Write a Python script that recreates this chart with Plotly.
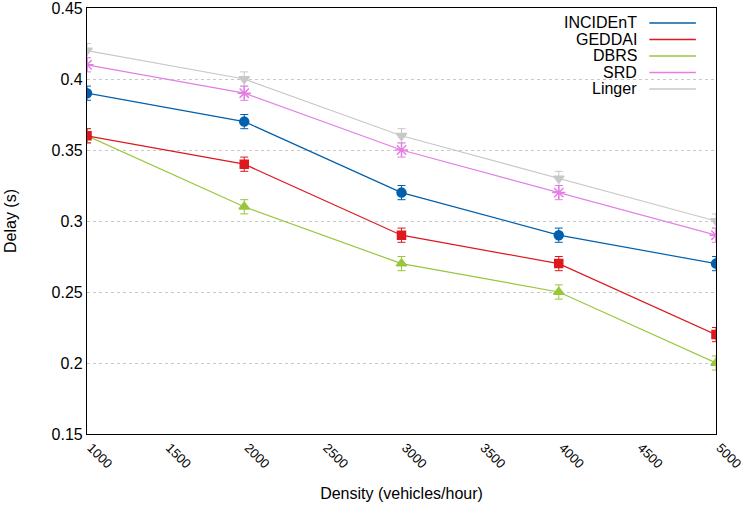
import plotly.graph_objects as go

# --- Data ---
density = [1000, 2000, 3000, 4000, 5000]

incident = [0.39, 0.37, 0.32, 0.29, 0.27]
geddai = [0.36, 0.34, 0.29, 0.27, 0.22]
dbrs = [0.36, 0.31, 0.27, 0.25, 0.20]
srd = [0.41, 0.39, 0.35, 0.32, 0.29]
linger = [0.42, 0.40, 0.36, 0.33, 0.30]

incident_err = [0.005, 0.005, 0.005, 0.005, 0.005]
geddai_err = [0.005, 0.005, 0.005, 0.005, 0.005]
dbrs_err = [0.005, 0.005, 0.005, 0.005, 0.005]
srd_err = [0.005, 0.005, 0.005, 0.005, 0.005]
linger_err = [0.005, 0.005, 0.005, 0.005, 0.005]

x_ticks = [1000, 1500, 2000, 2500, 3000, 3500, 4000, 4500, 5000]
y_ticks = [0.15, 0.2, 0.25, 0.3, 0.35, 0.4, 0.45]
y_labels = ["0.15", "0.2", "0.25", "0.3", "0.35", "0.4", "0.45"]

# name, values, errors, colour, marker symbol, marker size
series = [
    ("Linger", linger, linger_err, "#c8c8c8", "triangle-down", 9),
    ("SRD", srd, srd_err, "#e47ee4", "asterisk-open", 11),
    ("DBRS", dbrs, dbrs_err, "#99c63c", "triangle-up", 9),
    ("GEDDAI", geddai, geddai_err, "#dd181f", "square", 8),
    ("INCIDEnT", incident, incident_err, "#0060ad", "circle", 9),
]
legend_order = ["INCIDEnT", "GEDDAI", "DBRS", "SRD", "Linger"]

fig = go.Figure()

for name, vals, errs, color, symbol, size in series:
    fig.add_trace(go.Scatter(
        x=density, y=vals, mode="lines+markers", name=name,
        line=dict(color=color, width=1.2),
        marker=dict(symbol=symbol, size=size, color=color,
                    line=dict(color=color, width=1.5)),
        error_y=dict(type="data", array=errs, visible=True,
                     color=color, thickness=1, width=4),
        showlegend=False,
    ))

# --- Hand-made legend (text first, sample line after it) ---
colors = {s[0]: s[3] for s in series}
shapes = [dict(type="rect", xref="paper", yref="paper",
               x0=0.755, x1=0.99, y0=0.80, y1=0.995,
               fillcolor="white", line=dict(width=0), layer="between")]
annotations = []
for i, name in enumerate(legend_order):
    yp = 1 - (15 + i * 16.5) / 426
    annotations.append(dict(
        x=0.877, y=yp, xref="paper", yref="paper", text=name,
        showarrow=False, xanchor="right", yanchor="middle",
        font=dict(size=16, color="black")))
    shapes.append(dict(type="line", xref="paper", yref="paper",
                       x0=0.894, x1=0.968, y0=yp, y1=yp,
                       line=dict(color=colors[name], width=1.3)))

fig.update_layout(
    width=742, height=514,
    paper_bgcolor="white", plot_bgcolor="white",
    margin=dict(l=87, r=26, t=8, b=80),
    font=dict(family="Liberation Sans, Arial, sans-serif", color="black"),
    shapes=shapes, annotations=annotations,
    xaxis=dict(
        range=[1000, 5000], tickvals=x_ticks,
        tickangle=45, tickfont=dict(size=13), ticklabelshift=4,
        showgrid=False, zeroline=False, automargin=False,
        ticklabeloverflow="allow",
        showline=True, linecolor="black", linewidth=1.2, mirror=True,
        title=dict(text="Density (vehicles/hour)", font=dict(size=16), standoff=17),
    ),
    yaxis=dict(
        range=[0.15, 0.45], tickvals=y_ticks, ticktext=y_labels,
        tickfont=dict(size=16), automargin=False,
        ticklabeloverflow="allow",
        showgrid=True, gridcolor="#c8c8c8", griddash="dot", gridwidth=1,
        zeroline=False,
        showline=True, linecolor="black", linewidth=1.2, mirror=True,
        title=dict(text="Delay (s)", font=dict(size=16), standoff=30),
    ),
)

# drop the default page margin so the figure sits at the window's corner
fig.write_html("out.html", config={"displayModeBar": False},
               post_script="document.body.style.margin='0';")
